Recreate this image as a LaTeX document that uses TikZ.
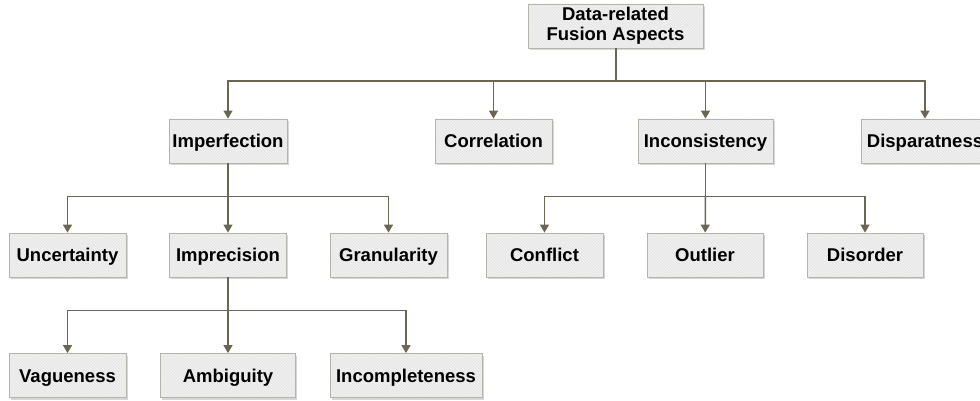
\documentclass[tikz,border=0pt]{standalone}
\usepackage{fontspec}
\setmainfont{Liberation Sans}
\usepackage{tikz}
\usepackage{xcolor}
\usetikzlibrary{arrows.meta,positioning,calc,shadows,patterns}

\definecolor{boxfill}{HTML}{E8E8E8}
\definecolor{boxline}{HTML}{B4B4AC}
\definecolor{linkcol}{HTML}{6B6654}

\begin{document}
\begin{tikzpicture}[
    x=1pt, y=-1pt,
    basebox/.style={rectangle, draw=boxline, line width=0.8pt,
        preaction={fill=boxfill, drop shadow={shadow xshift=1.5pt, shadow yshift=-2pt, fill=black!35, opacity=.45}},
        pattern=north west lines, pattern color=white!50!boxfill,
        minimum width=117pt, minimum height=44pt, inner sep=2pt,
        font=\fontsize{18.5}{20}\selectfont\bfseries, align=center},
    box/.style={basebox, text height=13pt, text depth=0pt},
    link/.style={draw=linkcol, line width=1.5pt},
    arrow/.style={link, -{Triangle[width=9pt,length=8pt]}}
]
    \useasboundingbox (0,0) rectangle (980,401);
    \clip (0,0) rectangle (980,401);

    % top
    \node[basebox, minimum width=175pt] (root) at (615.5,26) {Data-related\\Fusion Aspects};

    % first level
    \node[box, minimum width=118pt] (imperf) at (228,141) {Imperfection};
    \node[box] (correl) at (493.5,141) {Correlation};
    \node[box, minimum width=135pt] (incons) at (705.5,141) {Inconsistency};
    \node[box, minimum width=127pt] (dispar) at (925,141) {Disparatness};

    % second level
    \node[box] (uncert) at (67.5,255) {Uncertainty};
    \node[box] (imprec) at (228,255) {Imprecision};
    \node[box] (granul) at (388.5,255) {Granularity};
    \node[box] (confl) at (544.5,255) {Conflict};
    \node[box, minimum width=116pt] (outl) at (705,255) {Outlier};
    \node[box, minimum width=116pt] (disord) at (865,255) {Disorder};

    % third level
    \node[box] (vague) at (67.5,375.5) {Vagueness};
    \node[box, minimum width=135pt] (ambig) at (228,375.5) {Ambiguity};
    \node[box, minimum width=152pt] (incompl) at (406,375.5) {Incompleteness};

    % junctions
    \coordinate (j0) at ($(root.south)+(0.5,32.5)$);
    \coordinate (j1) at ($(imperf.south)+(0,33)$);
    \coordinate (j2) at ($(incons.south)+(0,33)$);
    \coordinate (j3) at ($(imprec.south)+(0,33)$);

    \draw[link] (root.south -| j0) -- (j0);
    \draw[arrow] (j0) -| (imperf);
    \draw[arrow] (j0) -| (correl);
    \draw[arrow] (j0) -| (incons);
    \draw[arrow] (j0) -| (dispar);

    \draw[link] (imperf) -- (j1);
    \draw[arrow] (j1) -| (uncert);
    \draw[arrow] (j1) -- (imprec);
    \draw[arrow] (j1) -| (granul);

    \draw[link] (incons) -- (j2);
    \draw[arrow] (j2) -| (confl);
    \draw[arrow] (j2) -- (outl);
    \draw[arrow] (j2) -| (disord);

    \draw[link] (imprec) -- (j3);
    \draw[arrow] (j3) -| (vague);
    \draw[arrow] (j3) -- (ambig);
    \draw[arrow] (j3) -| (incompl);
\end{tikzpicture}
\end{document}
